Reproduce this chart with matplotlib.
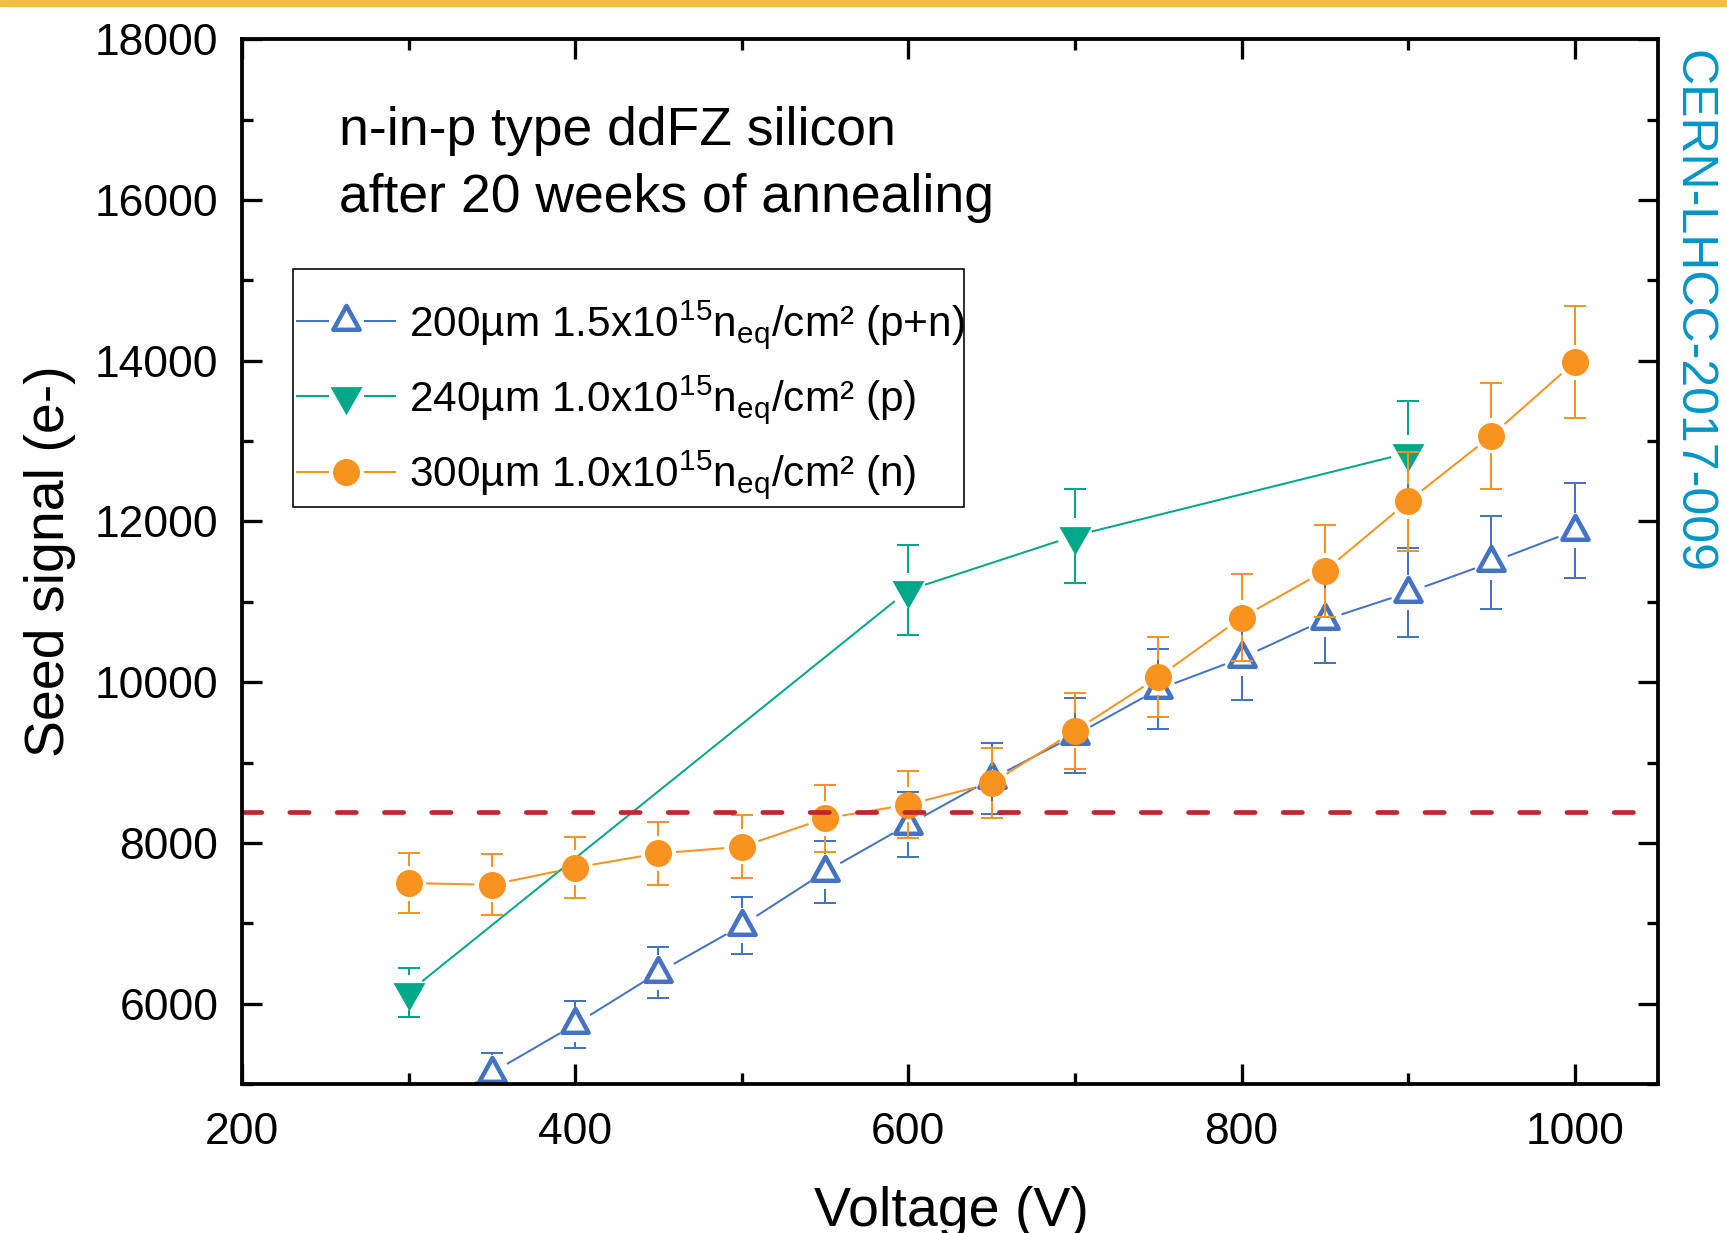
import numpy as np
import matplotlib
matplotlib.use('Agg')
import matplotlib.pyplot as plt
from matplotlib.lines import Line2D
from matplotlib.path import Path
from matplotlib.markers import MarkerStyle
from matplotlib.patches import Rectangle
from matplotlib.legend_handler import HandlerTuple
from matplotlib.ticker import MultipleLocator

plt.rcParams['font.family'] = ['Liberation Sans', 'DejaVu Sans']
plt.rcParams['mathtext.fontset'] = 'custom'
plt.rcParams['mathtext.rm'] = 'Liberation Sans'
plt.rcParams['mathtext.it'] = 'Liberation Sans:italic'
plt.rcParams['mathtext.bf'] = 'Liberation Sans:bold'
plt.rcParams['lines.scale_dashes'] = False

# ---------------- data ----------------
voltage_200 = [300, 350, 400, 450, 500, 550, 600, 650, 700, 750, 800, 850, 900, 950, 1000]
signal_200 = [4510, 5140, 5742, 6387, 6972, 7640, 8228, 8798, 9339, 9911, 10300, 10776, 11115, 11491, 11886]
error_200 = [225, 250, 290, 321, 351, 384, 408, 440, 466, 496, 520, 539, 557, 574, 591]

voltage_240 = [300, 600, 700, 900]
signal_240 = [6142, 11145, 11823, 12853]
error_240 = [305, 560, 587, 643]

voltage_300 = [300, 350, 400, 450, 500, 550, 600, 650, 700, 750, 800, 850, 900, 950, 1000]
signal_300 = [7500, 7480, 7693, 7870, 7952, 8305, 8477, 8744, 9394, 10063, 10803, 11385, 12250, 13067, 13983]
error_300 = [377, 378, 383, 394, 394, 415, 421, 439, 475, 502, 541, 570, 616, 657, 697]

threshold = 8390

labels = ['200µm 1.5x$\\mathrm{10^{15}n_{eq}}$/cm² (p+n)',
          '240µm 1.0x$\\mathrm{10^{15}n_{eq}}$/cm² (p)',
          '300µm 1.0x$\\mathrm{10^{15}n_{eq}}$/cm² (n)']
annotation = ['n-in-p type ddFZ silicon', 'after 20 weeks of annealing']
xlabel = 'Voltage (V)'
ylabel = 'Seed signal (e-)'
side_text = 'CERN-LHCC-2017-009'

# ---------------- style ----------------
BLUE = '#4472C4'
GREEN = '#00A88A'
ORANGE = '#F7931E'
RED = '#C1272D'

W, H, DPI = 1727, 1233, 100
PT = 72.0 / DPI  # points per pixel

fig = plt.figure(figsize=(W / DPI, H / DPI), dpi=DPI)
fig.patches.append(Rectangle((0, 1 - 6 / H), 1, 6 / H, transform=fig.transFigure,
                             color='#F0C040', zorder=0))
ax = fig.add_axes([242 / W, 1 - 1084 / H, (1658 - 242) / W, (1084 - 39.3) / H])
ax.set_xlim(200, 1050)
ax.set_ylim(5000, 18000)

up_tri = MarkerStyle(Path([(0, 15.5), (-13.1, -8.3), (13.1, -8.3), (0, 15.5)],
                          [Path.MOVETO, Path.LINETO, Path.LINETO, Path.CLOSEPOLY]),
                     joinstyle='miter')
down_tri = MarkerStyle(Path([(0, -18.2), (-15.5, 9.1), (15.5, 9.1), (0, -18.2)],
                            [Path.MOVETO, Path.LINETO, Path.LINETO, Path.CLOSEPOLY]),
                       joinstyle='miter')

GAP = 17.5  # px gap around markers
LW = 2.0 * PT
CAPW = 22 * PT


def draw_series(x, y, err, color, marker, mkw, z):
    x = np.asarray(x, float)
    y = np.asarray(y, float)
    err = np.asarray(err, float)
    tr = ax.transData
    inv = tr.inverted()
    pts = tr.transform(np.column_stack([x, y]))
    # connecting line segments, shortened near markers
    for p0, p1 in zip(pts[:-1], pts[1:]):
        d = p1 - p0
        L = np.hypot(*d)
        if L <= 2 * GAP:
            continue
        u = d / L
        a = inv.transform(p0 + u * GAP)
        b = inv.transform(p1 - u * GAP)
        ax.plot([a[0], b[0]], [a[1], b[1]], color=color, lw=LW, zorder=z,
                solid_capstyle='butt')
    # error bars
    for (px, py), xi, yi, ei in zip(pts, x, y, err):
        top = tr.transform((xi, yi + ei))[1]
        bot = tr.transform((xi, yi - ei))[1]
        if top - py > GAP:
            a = inv.transform((px, py + GAP))[1]
            ax.plot([xi, xi], [a, yi + ei], color=color, lw=LW, zorder=z,
                    solid_capstyle='butt')
        if py - bot > GAP:
            b = inv.transform((px, py - GAP))[1]
            ax.plot([xi, xi], [yi - ei, b], color=color, lw=LW, zorder=z,
                    solid_capstyle='butt')
    ax.plot(x, y + err, linestyle='none', marker='_', ms=CAPW, mew=LW, color=color, zorder=z)
    ax.plot(x, y - err, linestyle='none', marker='_', ms=CAPW, mew=LW, color=color, zorder=z)
    ax.plot(x, y, linestyle='none', marker=marker, zorder=z + 0.5, **mkw)


mk_blue = dict(ms=31 * PT, mfc='white', mec=BLUE, mew=4.5 * PT)
mk_green = dict(ms=37.5 * PT, mfc=GREEN, mec=GREEN, mew=0)
mk_orange = dict(ms=27 * PT, mfc=ORANGE, mec=ORANGE, mew=0)

draw_series(voltage_200, signal_200, error_200, BLUE, up_tri, mk_blue, 3)
draw_series(voltage_240, signal_240, error_240, GREEN, down_tri, mk_green, 4)
draw_series(voltage_300, signal_300, error_300, ORANGE, 'o', mk_orange, 5)

ax.axhline(threshold, color=RED, lw=4.7 * PT, linestyle=(0, (19.3 * PT, 28 * PT)),
           dash_capstyle='round', zorder=8)

# axes styling
for s in ax.spines.values():
    s.set_linewidth(3.8 * PT)
    s.set_zorder(10)
ax.xaxis.set_major_locator(MultipleLocator(200))
ax.xaxis.set_minor_locator(MultipleLocator(100))
ax.yaxis.set_major_locator(MultipleLocator(2000))
ax.yaxis.set_minor_locator(MultipleLocator(1000))
ax.tick_params(which='both', direction='in', top=True, right=True, width=3.3 * PT)
ax.tick_params(which='major', length=20 * PT, labelsize=32)
ax.tick_params(which='minor', length=11 * PT)
ax.tick_params(axis='x', which='major', pad=20)
ax.tick_params(axis='y', which='major', pad=17)

fig.text(50 / W, 1 - 561 / H, ylabel, rotation=90, ha='center', va='center', fontsize=40)
fig.text(951 / W, 7 / H, xlabel, ha='center', va='baseline', fontsize=40)
fig.text(339 / W, 1 - 145.4 / H, annotation[0], ha='left', va='baseline', fontsize=38.5)
fig.text(339 / W, 1 - 211.5 / H, annotation[1], ha='left', va='baseline', fontsize=38.5)
fig.text(1692 / W, 1 - 311 / H, side_text, rotation=-90, ha='center', va='center',
         fontsize=36, color='#0096C8')

# legend
def handle(color, marker, mkw):
    line = Line2D([], [], color=color, lw=LW)
    halo = Line2D([], [], linestyle='none', marker='o', ms=2 * GAP * PT, mfc='white', mec='white', mew=0)
    mk = Line2D([], [], linestyle='none', marker=marker, **mkw)
    return (line, halo, mk)

handles = [handle(BLUE, up_tri, mk_blue), handle(GREEN, down_tri, mk_green),
           handle(ORANGE, 'o', mk_orange)]
leg = ax.legend(handles, labels, handler_map={tuple: HandlerTuple(ndivide=1)},
                loc='center left', bbox_to_anchor=(297 / W, 1 - 399.5 / H),
                bbox_transform=fig.transFigure, borderaxespad=0, fontsize=30.5,
                frameon=False, handlelength=2.31, handletextpad=0.33, borderpad=0,
                labelspacing=0.53)
leg.set_zorder(20)
frame = Rectangle((293.4 / W, 1 - 506.7 / H), (964 - 293.4) / W, (506.7 - 269.3) / H,
                  transform=fig.transFigure, facecolor='white', edgecolor='black',
                  linewidth=1.6 * PT, zorder=19, clip_on=False)
ax.add_artist(frame)

fig.savefig('out.png', dpi=DPI)
